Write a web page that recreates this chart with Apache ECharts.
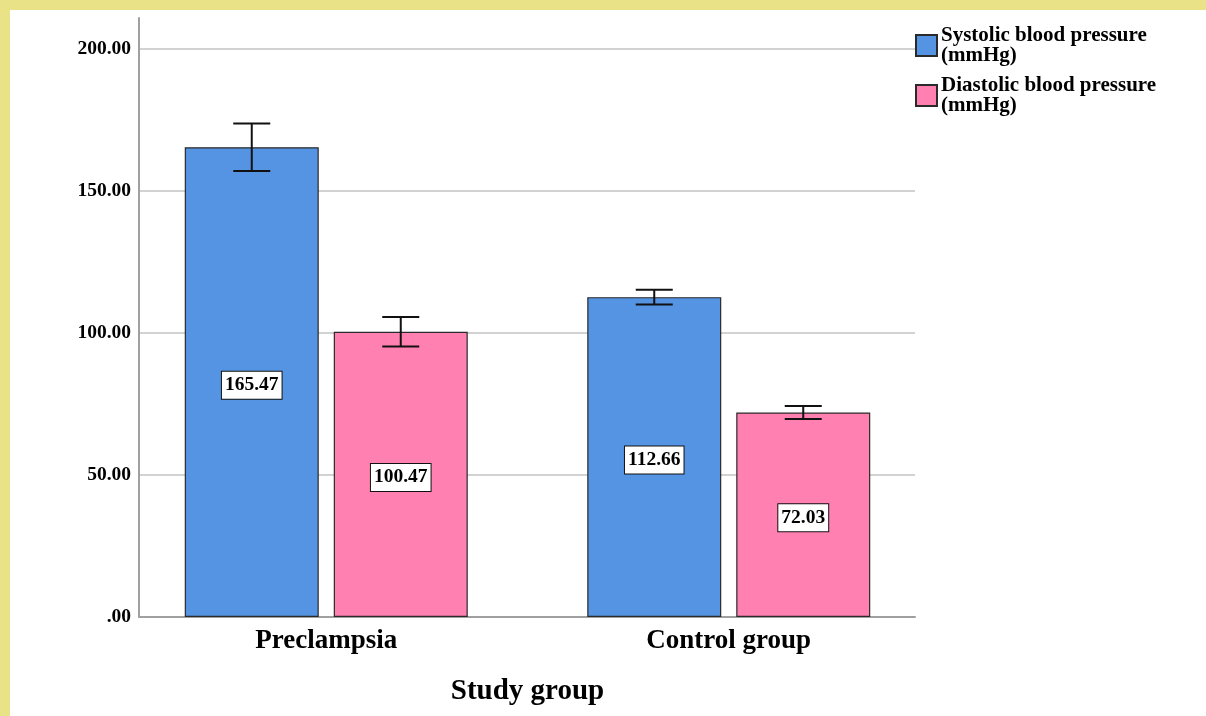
<!DOCTYPE html>
<html>
<head>
<meta charset="utf-8">
<script src="https://cdn.jsdelivr.net/npm/echarts@6/dist/echarts.min.js"></script>
<style>
html,body{margin:0;padding:0;background:#fff;}
#chart{position:absolute;left:0;top:0;width:1206px;height:716px;
background:
 linear-gradient(#E9E286,#E9E286) top left/100% 10px no-repeat,
 linear-gradient(#E9E286,#E9E286) top left/10px 100% no-repeat,
 #ffffff;}
</style>
</head>
<body>
<div id="chart"></div>
<script>
const categories = ['Preclampsia', 'Control group'];
const seriesNames = ['Systolic blood pressure\n(mmHg)', 'Diastolic blood pressure\n(mmHg)'];
const systolic = [165.47, 112.66];
const diastolic = [100.47, 72.03];
const systolicErr = [8.4, 2.6];
const diastolicErr = [5.2, 2.3];
const yTicks = [0, 50, 100, 150, 200];

const FONT = "'Liberation Serif', 'Times New Roman', serif";
const BAR_W = 134, BAR_GAP = 15;
const Y_MAX = 211;

function fmtTick(v) {
  if (yTicks.indexOf(v) < 0) return '';
  const s = v.toFixed(2);
  return s.startsWith('0') ? s.slice(1) : s;
}

function errSeries(vals, errs, offset, name) {
  return {
    type: 'custom',
    name: name + '_err',
    xAxisIndex: 1, yAxisIndex: 1,
    z: 5,
    silent: true,
    data: vals.map((v, i) => [i, v - errs[i], v + errs[i]]),
    renderItem: function (params, api) {
      const i = api.value(0);
      const lo = api.coord([i, api.value(1)]);
      const hi = api.coord([i, api.value(2)]);
      const cx = lo[0] + offset;
      const hw = 18.5;
      const st = { stroke: '#111', lineWidth: 2 };
      return {
        type: 'group',
        children: [
          { type: 'line', shape: { x1: cx, y1: lo[1], x2: cx, y2: hi[1] }, style: st },
          { type: 'line', shape: { x1: cx - hw, y1: lo[1], x2: cx + hw, y2: lo[1] }, style: st },
          { type: 'line', shape: { x1: cx - hw, y1: hi[1], x2: cx + hw, y2: hi[1] }, style: st }
        ]
      };
    }
  };
}

const labelStyle = {
  show: true, position: 'inside', offset: [0, 3],
  formatter: p => p.value.toFixed(2),
  fontFamily: FONT, fontWeight: 'bold', fontSize: 19.5, color: '#000',
  backgroundColor: '#fff', borderColor: '#111', borderWidth: 1,
  padding: [4, 3, 3, 3]
};

const chart = echarts.init(document.getElementById('chart'), null, { renderer: 'canvas' });
chart.setOption({
  animation: false,
  grid: [
    { left: 139, top: 18, width: 776, bottom: 99 },
    { left: 125, top: 18, width: 805, bottom: 99 }
  ],
  legend: {
    left: 910, top: 20, orient: 'vertical',
    itemWidth: 21, itemHeight: 21, itemGap: 9,
    icon: 'rect',
    data: seriesNames,
    textStyle: { fontFamily: FONT, fontWeight: 'bold', fontSize: 21, color: '#000', lineHeight: 20, padding: [0, 0, 0, -1] }
  },
  xAxis: [
    { gridIndex: 0, type: 'value', min: 0, max: 1,
      axisLine: { show: true, onZero: false, lineStyle: { color: '#A0A0A0', width: 2 } },
      axisTick: { show: false }, axisLabel: { show: false }, splitLine: { show: false } },
    { gridIndex: 1, type: 'category', data: categories,
      axisLine: { show: false }, axisTick: { show: false },
      axisLabel: { fontFamily: FONT, fontWeight: 'bold', fontSize: 27, color: '#000', margin: 11 },
      name: 'Study group', nameLocation: 'middle', nameGap: 60,
      nameTextStyle: { fontFamily: FONT, fontWeight: 'bold', fontSize: 29, color: '#000' } }
  ],
  yAxis: [
    { gridIndex: 0, type: 'value', min: 0, max: Y_MAX, interval: 50,
      axisLine: { show: true, lineStyle: { color: '#A0A0A0', width: 2 } },
      axisTick: { show: false },
      axisLabel: { formatter: fmtTick, fontFamily: FONT, fontWeight: 'bold', fontSize: 19.5, color: '#000', margin: 8 },
      splitLine: { show: true, showMaxLine: false, showMinLine: false, lineStyle: { color: '#D2D2D2', width: 2 } } },
    { gridIndex: 1, type: 'value', min: 0, max: Y_MAX, show: false, splitLine: { show: false } }
  ],
  series: [
    { type: 'bar', name: seriesNames[0], xAxisIndex: 1, yAxisIndex: 1, data: systolic,
      barWidth: BAR_W, barGap: (BAR_GAP / BAR_W * 100) + '%',
      itemStyle: { color: '#5594E2', borderColor: '#2A2A2A', borderWidth: 1.2 },
      label: labelStyle },
    { type: 'bar', name: seriesNames[1], xAxisIndex: 1, yAxisIndex: 1, data: diastolic,
      barWidth: BAR_W,
      itemStyle: { color: '#FF80B1', borderColor: '#2A2A2A', borderWidth: 1.2 },
      label: labelStyle },
    errSeries(systolic, systolicErr, -(BAR_W + BAR_GAP) / 2, 'sys'),
    errSeries(diastolic, diastolicErr, (BAR_W + BAR_GAP) / 2, 'dia')
  ]
});
</script>
</body>
</html>
